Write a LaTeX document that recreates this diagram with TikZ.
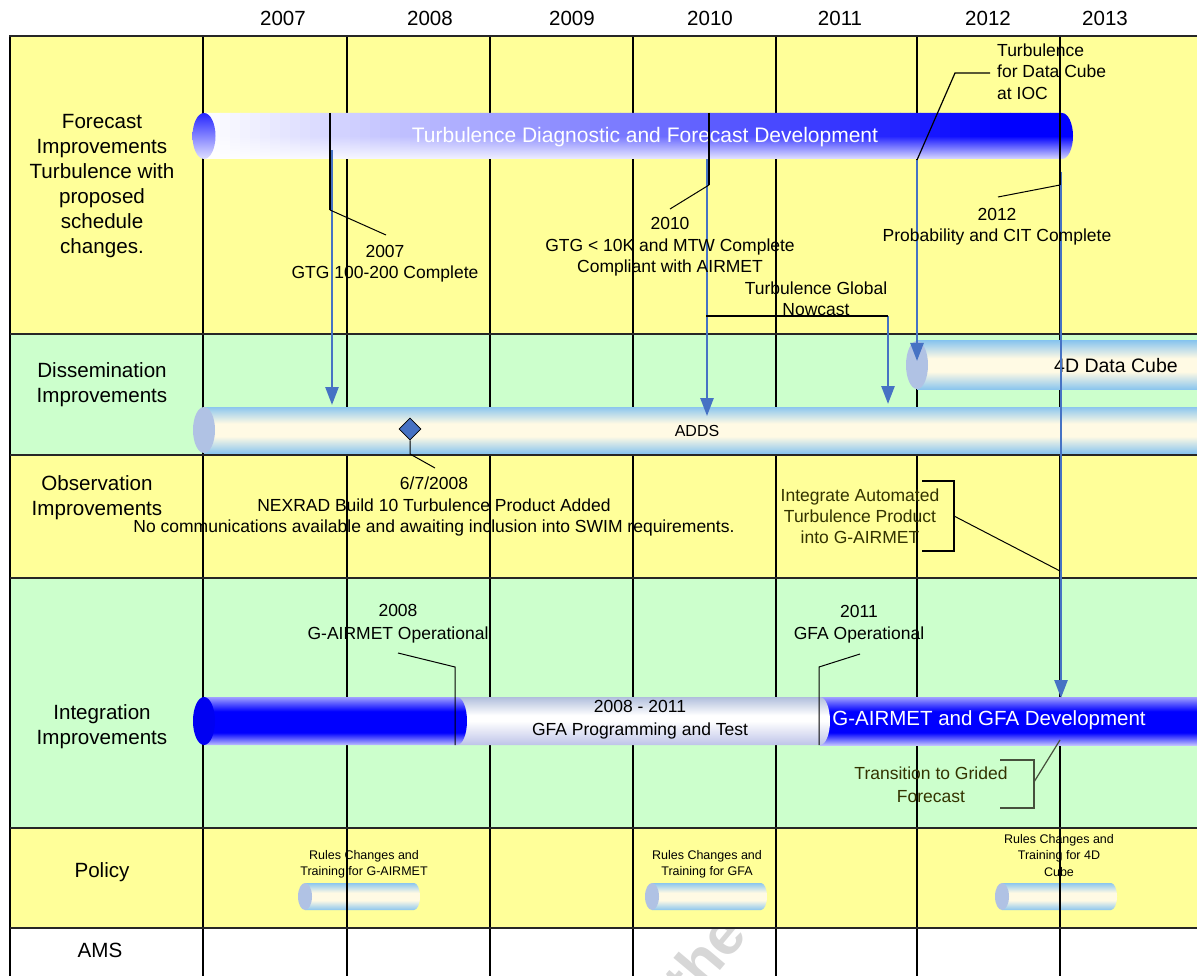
\documentclass[tikz,border=0pt]{standalone}
\usepackage{fontspec}
\setmainfont{Liberation Sans}
\usetikzlibrary{arrows.meta,shapes.geometric}

\definecolor{rowyellow}{RGB}{255,255,153}
\definecolor{rowgreen}{RGB}{204,255,204}
\definecolor{arrowblue}{RGB}{70,114,196}
\definecolor{tubeblue}{RGB}{140,198,238}
\definecolor{tubecream}{RGB}{255,250,228}
\definecolor{capgray}{RGB}{176,194,228}
\definecolor{intwt}{RGB}{176,190,220}
\definecolor{intwb}{RGB}{190,196,232}
\definecolor{intbt}{RGB}{160,160,255}
\definecolor{intbb}{RGB}{190,190,255}
\definecolor{olivetext}{RGB}{51,51,0}
\definecolor{bracketgray}{RGB}{70,80,60}
\definecolor{markgray}{RGB}{215,215,215}

% shadings for the timeline tubes
\pgfdeclareverticalshading{tubeshade}{100bp}{color(0bp)=(tubeblue); color(25bp)=(tubeblue); color(43bp)=(tubecream); color(57bp)=(tubecream); color(75bp)=(tubeblue); color(100bp)=(tubeblue)}
\pgfdeclareverticalshading{intblueshade}{100bp}{color(0bp)=(intbb); color(25bp)=(intbb); color(38bp)=(blue); color(60bp)=(blue); color(75bp)=(intbt); color(100bp)=(intbt)}
\pgfdeclareverticalshading{intwhiteshade}{100bp}{color(0bp)=(intwb); color(25bp)=(intwb); color(50bp)=(white); color(56bp)=(white); color(75bp)=(intwt); color(100bp)=(intwt)}

\newcommand\fsz[2]{\fontsize{#1}{#2}\selectfont}

\tikzset{
  rowlabel/.style={font=\fsz{20.6}{25}, align=center, inner sep=0pt},
  yearlabel/.style={font=\fsz{20.5}{22}, inner sep=0pt},
  note/.style={font=\fsz{17.5}{21.5}, align=center, inner sep=0pt},
  smallnote/.style={font=\fsz{12.5}{16.5}, align=center, inner sep=0pt},
  bartext/.style={font=\fsz{21}{24}, text=white, inner sep=0pt},
  gridline/.style={line width=1.3pt, black},
  rowline/.style={line width=2.6pt, black!85},
  leader/.style={line width=1pt, black},
  calloutline/.style={line width=1.4pt, black},
  bluearrow/.style={line width=2.6pt, arrowblue, -{Triangle[length=18pt,width=13pt]}},
  tube/.style={shading=tubeshade},
  tubecap/.style={fill=capgray},
}

\begin{document}
\begin{tikzpicture}[x=1pt,y=-1pt]
\useasboundingbox (0,0) rectangle (1197,976);

% row bands
\fill[rowyellow] (10,36) rectangle (1197,334);
\fill[rowgreen] (10,334) rectangle (1197,455);
\fill[rowyellow] (10,455) rectangle (1197,578);
\fill[rowgreen] (10,578) rectangle (1197,828);
\fill[rowyellow] (10,828) rectangle (1197,928);

% faint background mark in the last row
\begin{scope}
  \clip (10,929) rectangle (1197,976);
  \node[font=\fsz{60}{60}\bfseries, text=markgray, rotate=50, inner sep=0pt] (mark) at (704,957) {the};
\end{scope}

% policy tubes (sit under the grid)
\foreach \px in {305,652,1002}{
  \shade[tube] (\px,883) -- (\px+109,883) arc[start angle=-90,end angle=90,x radius=6,y radius=13.5] -- (\px,910) -- cycle;
  \fill[tubecap] (\px,896.5) ellipse[x radius=7,y radius=13.5];
}
\node[smallnote] (pol1) at (364,864.5) {Rules Changes and\\Training for G-AIRMET};
\node[smallnote] (pol2) at (707,864.5) {Rules Changes and\\Training for GFA};
\node[smallnote] (pol3) at (1059,855.5) {Rules Changes and\\Training for 4D\\Cube};

% grid
\foreach \x in {203,347,490,633,776,917,1060} \draw[gridline] (\x,36) -- (\x,976);
\draw[line width=2pt] (10,36) -- (10,976);
\foreach \y in {334,455,578,828,928} \draw[rowline] (10,\y) -- (1197,\y);
\draw[rowline] (9,36) -- (1197,36);

% year header
\node[yearlabel] (y2007) at (283,18) {2007};
\node[yearlabel] (y2008) at (430,18) {2008};
\node[yearlabel] (y2009) at (572,18) {2009};
\node[yearlabel] (y2010) at (710,18) {2010};
\node[yearlabel] (y2011) at (840,18) {2011};
\node[yearlabel] (y2012) at (988,18) {2012};
\node[yearlabel] (y2013) at (1105,18) {2013};

% row labels
\node[rowlabel] (rforecast) at (102,186.5) {Forecast\\Improvements\\Turbulence with\\proposed\\schedule\\changes.};
\node[rowlabel] (rdissem) at (102,385) {Dissemination\\Improvements};
\node[rowlabel] (robs) at (97,498) {Observation\\Improvements};
\node[rowlabel] (rinteg) at (102,727) {Integration\\Improvements};
\node[rowlabel] (rpolicy) at (102,872) {Policy};
\node[rowlabel] (rams) at (100,950) {AMS};

% forecast development bar: slices blending white to blue along the bar,
% each paling towards the lower edge
\begin{scope}
  \clip (204,113) -- (1062,113) arc[start angle=-90,end angle=90,x radius=11,y radius=23] -- (204,159) -- cycle;
  \foreach \xs in {200,210,...,1070}{
    \pgfmathsetmacro\pp{min(100,max(0,(\xs+5-204)/800*100))}
    \pgfmathsetmacro\qq{\pp*0.12}
    \shade[top color=blue!\pp!white, bottom color=blue!\qq!white, middle color=blue!\pp!white] (\xs,112) rectangle (\xs+10.6,160);
  }
\end{scope}
\shade[top color=blue!85, bottom color=blue!12] (204,136) ellipse[x radius=11.5,y radius=23];
\node[bartext] (fbar) at (645,137) {Turbulence Diagnostic and Forecast Development};

% dissemination tubes
\shade[tube] (204,407) rectangle (1200,453);
\fill[tubecap] (204,430) ellipse[x radius=11,y radius=23];
\node[font=\fsz{16}{18}, inner sep=0pt] (adds) at (697,431) {ADDS};
\shade[tube] (917,341) rectangle (1200,389);
\fill[tubecap] (917,365) ellipse[x radius=11,y radius=24];
\node[font=\fsz{19.5}{22}, inner sep=0pt] (cube) at (1116,366) {4D Data Cube};

% integration bar
\shade[shading=intblueshade] (820,697) rectangle (1200,745);
\shade[shading=intwhiteshade] (455,697) -- (820,697) arc[start angle=-90,end angle=90,x radius=10,y radius=24] -- (455,745) -- cycle;
\shade[shading=intblueshade] (204,697) -- (457,697) arc[start angle=-90,end angle=90,x radius=10,y radius=24] -- (204,745) -- cycle;
\fill[blue!95!black] (204,721) ellipse[x radius=11,y radius=24];
\node[note, font=\fsz{17.5}{23}] (gfaprog) at (640,719.5) {2008 - 2011\\GFA Programming and Test};
\node[bartext, font=\fsz{20.5}{24}] (gdev) at (989,720) {G-AIRMET and GFA Development};

% 2007 milestone
\coordinate (c07a) at (330,113);
\coordinate (c07b) at (330,210);
\coordinate (c07c) at (386,235);
\coordinate (a07s) at (332,150);
\coordinate (a07e) at (332,405);
\draw[bluearrow] (a07s) -- (a07e);
\draw[calloutline] (c07a) -- (c07b);
\draw[leader] (c07b) -- (c07c);
\node[note] (n2007) at (385,263.5) {2007\\GTG 100-200 Complete};

% 2010 milestone
\coordinate (c10a) at (709,113);
\coordinate (c10b) at (709,185);
\coordinate (c10c) at (670,209);
\coordinate (a10s) at (707,159);
\coordinate (a10e) at (707,416);
\draw[bluearrow] (a10s) -- (a10e);
\draw[calloutline] (c10a) -- (c10b);
\draw[leader] (c10b) -- (c10c);
\node[note] (n2010) at (670,247) {2010\\GTG < 10K and MTW Complete\\Compliant with AIRMET};

% global nowcast
\coordinate (gna) at (706,316);
\coordinate (gnb) at (888,316);
\coordinate (gnc) at (888,404);
\draw[bluearrow] (gnb) -- (gnc);
\draw[line width=2.4pt] (gna) -- (gnb);
\node[note] (nglobal) at (816,298.5) {Turbulence Global\\Nowcast};

% data cube at IOC
\coordinate (dca) at (990,73);
\coordinate (dcb) at (955,73);
\coordinate (dcc) at (917,160);
\coordinate (dce) at (917,361);
\draw[bluearrow] (dcc) -- (dce);
\draw[line width=1.2pt] (dca) -- (dcb) -- (dcc);
\node[note, align=left, anchor=west] (ncube) at (997,71.5) {Turbulence\\for Data Cube\\at IOC};

% 2012 milestone
\coordinate (c12a) at (1060,113);
\coordinate (c12b) at (1060,185);
\coordinate (c12c) at (998,197);
\coordinate (a12s) at (1061,172);
\coordinate (a12e) at (1061,698);
\draw[bluearrow] (a12s) -- (a12e);
\draw[calloutline] (c12a) -- (c12b);
\draw[leader] (c12b) -- (c12c);
\node[note] (n2012) at (997,226.5) {2012\\Probability and CIT Complete};

% NEXRAD milestone
\node[diamond, fill=arrowblue, draw=black, line width=0.8pt, minimum width=22pt, minimum height=22pt, inner sep=0pt] (dm) at (410,429) {};
\coordinate (nxa) at (410,454);
\coordinate (nxb) at (435,468);
\draw[leader] (dm.south) -- (nxa) -- (nxb);
\node[note] (nnexrad) at (434,506.5) {6/7/2008\\NEXRAD Build 10 Turbulence Product Added\\No communications available and awaiting inclusion into SWIM requirements.};

% automated product bracket
\coordinate (iba) at (922,481);
\coordinate (ibb) at (954,481);
\coordinate (ibc) at (954,551);
\coordinate (ibd) at (922,551);
\coordinate (ibm) at (954,516);
\coordinate (ibt) at (1060,571);
\draw[line width=1.2pt] (iba) -- (ibb) -- (ibc) -- (ibd);
\draw[leader] (ibm) -- (ibt);
\node[note, text=olivetext, font=\fsz{17.5}{21}] (nintegrate) at (860,516) {Integrate Automated\\Turbulence Product\\into G-AIRMET};

% operational milestones
\coordinate (g08a) at (398,653);
\coordinate (g08b) at (455,667);
\coordinate (g08c) at (455,745);
\draw[leader] (g08a) -- (g08b) -- (g08c);
\node[note, font=\fsz{17.5}{23}] (n2008) at (398,623.5) {2008\\G-AIRMET Operational};
\coordinate (g11a) at (860,654);
\coordinate (g11b) at (819,667);
\coordinate (g11c) at (819,745);
\draw[leader] (g11a) -- (g11b) -- (g11c);
\node[note, font=\fsz{17.5}{22}] (n2011) at (859,624) {2011\\GFA Operational};

% gridded forecast bracket
\coordinate (tba) at (1000,760);
\coordinate (tbb) at (1034,760);
\coordinate (tbc) at (1034,808);
\coordinate (tbd) at (1000,808);
\coordinate (tbm) at (1034,782);
\coordinate (tbt) at (1060,740);
\draw[bracketgray, line width=1.5pt] (tba) -- (tbb) -- (tbc) -- (tbd);
\draw[bracketgray, line width=1.2pt] (tbm) -- (tbt);
\node[note, text=olivetext, font=\fsz{17.5}{23}] (ntransition) at (931,784.5) {Transition to Grided\\Forecast};

\end{tikzpicture}
\end{document}
